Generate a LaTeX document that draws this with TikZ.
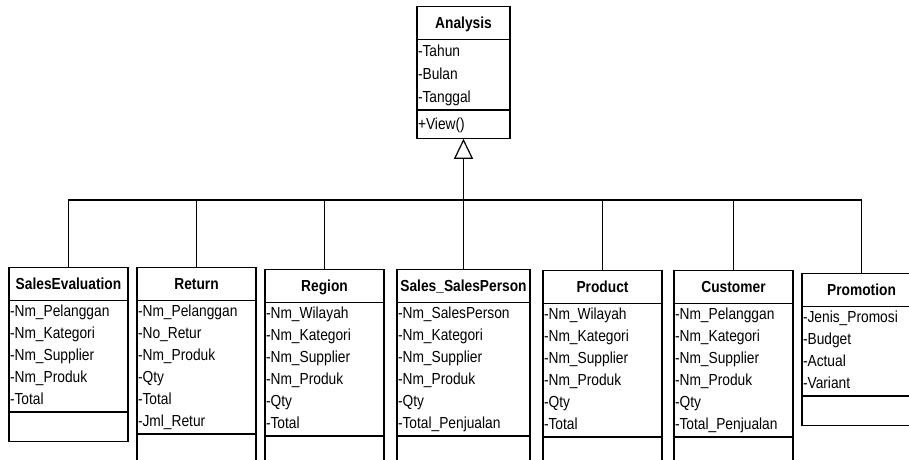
\documentclass[tikz,border=0pt]{standalone}
\usepackage{fontspec}
\setmainfont{Liberation Sans}[FakeStretch=0.86]
\usetikzlibrary{shapes.multipart,arrows.meta}
\tikzset{
    umlclass/.style={draw, line width=1.2pt, rectangle split, rectangle split parts=3,
        anchor=north, inner xsep=1pt, inner ysep=0pt, align=left,
        font=\fontsize{16}{22}\selectfont},
    conn/.style={line width=1.2pt},
    >=stealth
}
\newcommand{\clstitle}[1]{\makebox[\hsize]{\rule[-11pt]{0pt}{32pt}\textbf{#1}}}
\newcommand{\clsops}[1]{\rule[-8pt]{0pt}{28pt}#1}

\begin{document}
\begin{tikzpicture}[x=1pt,y=-1pt]
    \useasboundingbox (0,0) rectangle (909,459);
    \clip (0,0) rectangle (909,459);
    % superclass
    \node[umlclass, text width=91pt, font=\fontsize{16}{23}\selectfont] (an) at (463.5,6)
        {\clstitle{Analysis}
        \nodepart{two}\strut-Tahun\\\strut-Bulan\\\strut-Tanggal
        \nodepart{three}\rule[-8pt]{0pt}{27pt}+View()};
    % subclasses
    \node[umlclass, text width=117pt] (se) at (68.5,267)
        {\clstitle{SalesEvaluation}
        \nodepart{two}\strut-Nm\_Pelanggan\\\strut-Nm\_Kategori\\\strut-Nm\_Supplier\\\strut-Nm\_Produk\\\strut-Total
        \nodepart{three}\clsops{}};
    \node[umlclass, text width=117pt] (rt) at (196.5,267)
        {\clstitle{Return}
        \nodepart{two}\strut-Nm\_Pelanggan\\\strut-No\_Retur\\\strut-Nm\_Produk\\\strut-Qty\\\strut-Total\\\strut-Jml\_Retur
        \nodepart{three}\clsops{}};
    \node[umlclass, text width=117pt] (rg) at (324.5,269)
        {\clstitle{Region}
        \nodepart{two}\strut-Nm\_Wilayah\\\strut-Nm\_Kategori\\\strut-Nm\_Supplier\\\strut-Nm\_Produk\\\strut-Qty\\\strut-Total
        \nodepart{three}\clsops{}};
    \node[umlclass, text width=131pt] (ss) at (463.5,269)
        {\clstitle{Sales\_SalesPerson}
        \nodepart{two}\strut-Nm\_SalesPerson\\\strut-Nm\_Kategori\\\strut-Nm\_Supplier\\\strut-Nm\_Produk\\\strut-Qty\\\strut-Total\_Penjualan
        \nodepart{three}\clsops{}};
    \node[umlclass, text width=117pt] (pd) at (602.5,270)
        {\clstitle{Product}
        \nodepart{two}\strut-Nm\_Wilayah\\\strut-Nm\_Kategori\\\strut-Nm\_Supplier\\\strut-Nm\_Produk\\\strut-Qty\\\strut-Total
        \nodepart{three}\clsops{}};
    \node[umlclass, text width=117pt] (cs) at (733.5,270)
        {\clstitle{Customer}
        \nodepart{two}\strut-Nm\_Pelanggan\\\strut-Nm\_Kategori\\\strut-Nm\_Supplier\\\strut-Nm\_Produk\\\strut-Qty\\\strut-Total\_Penjualan
        \nodepart{three}\clsops{}};
    \node[umlclass, text width=117pt] (pm) at (861.5,273)
        {\clstitle{Promotion}
        \nodepart{two}\strut-Jenis\_Promosi\\\strut-Budget\\\strut-Actual\\\strut-Variant
        \nodepart{three}\clsops{}};
    % generalization
    \coordinate (bus) at (463.5,200);
    \draw[conn] (se.north) -- (se.north |- bus) -- (pm.north |- bus) -- (pm.north);
    \foreach \c in {rt,rg,pd,cs}
        \draw[conn] (\c.north) -- (\c.north |- bus);
    \draw[conn,-{Triangle[open,length=20pt,width=19pt]}] (ss.north) -- (an.south);
\end{tikzpicture}
\end{document}
